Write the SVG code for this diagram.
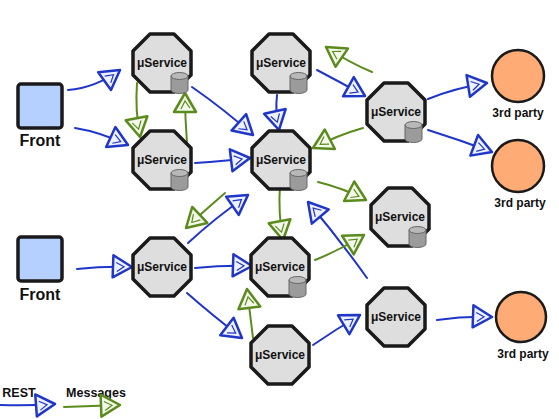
<svg xmlns="http://www.w3.org/2000/svg" width="559" height="419" viewBox="0 0 559 419">
<style>
.oct{fill:#dedede;stroke:#1a1a1a;stroke-width:3.5;stroke-linejoin:round}
.lbl{font-family:"Liberation Sans",Arial,sans-serif;font-weight:bold;font-size:12px;fill:#111;text-anchor:middle}
.big{font-family:"Liberation Sans",Arial,sans-serif;font-weight:bold;font-size:16px;fill:#111;text-anchor:middle}
.front{fill:#b5cfff;stroke:#1a1a1a;stroke-width:3.5;stroke-linejoin:round}
.third{fill:#ffab76;stroke:#1a1a1a;stroke-width:2.5}
.cylb{fill:#9b9b9b;stroke:#666;stroke-width:1}
.cylt{fill:#b8b8b8;stroke:#666;stroke-width:1}
.rest{fill:none;stroke:#1f36c8;stroke-width:2;stroke-linecap:round;marker-end:url(#mb)}
.msg{fill:none;stroke:#5b8b1d;stroke-width:2;stroke-linecap:round;marker-end:url(#mg)}
</style>
<defs>
<marker id="mb" markerUnits="userSpaceOnUse" markerWidth="24" markerHeight="26" refX="20" refY="12" orient="auto" viewBox="-2 -1 24 26">
<path d="M1,1 L20,12 L1,23 Z" fill="#eef1ff" stroke="#1f36c8" stroke-width="2.5" stroke-linejoin="round"/>
<path d="M4,8 L12,12 L5,17" fill="none" stroke="#1f36c8" stroke-width="1.2"/>
</marker>
<marker id="mg" markerUnits="userSpaceOnUse" markerWidth="24" markerHeight="26" refX="20" refY="12" orient="auto" viewBox="-2 -1 24 26">
<path d="M1,1 L20,12 L1,23 Z" fill="#f3f8ea" stroke="#5b8b1d" stroke-width="2.5" stroke-linejoin="round"/>
<path d="M4,8 L12,12 L5,17" fill="none" stroke="#5b8b1d" stroke-width="1.2"/>
</marker>
<polygon id="octshape" points="-12,-29 12,-29 29,-12 29,12 12,29 -12,29 -29,12 -29,-12"/>
<g id="cyl">
<path class="cylb" d="M9,13 L9,27 A8.5,3.5 0 0 0 26,27 L26,13 Z"/>
<ellipse class="cylt" cx="17.5" cy="13" rx="8.5" ry="3.5"/>
</g>
</defs>

<g id="connectors">
<path class="rest" d="M68,90 Q95,88 120,70"/>
<path class="rest" d="M75,128 Q100,132 128,145"/>
<path class="rest" d="M192,87 Q225,110 253,135"/>
<path class="rest" d="M195,163 Q225,161 250,158"/>
<path class="rest" d="M277,95 Q275,112 279,130"/>
<path class="rest" d="M317,70 Q340,82 365,96"/>
<path class="rest" d="M428,99 Q455,88 487,83"/>
<path class="rest" d="M428,130 Q460,140 492,152"/>
<path class="rest" d="M77,269 Q105,266 132,267"/>
<path class="rest" d="M195,268 Q225,265 252,266"/>
<path class="rest" d="M187,293 Q212,315 242,338"/>
<path class="rest" d="M188,243 Q215,218 248,195"/>
<path class="rest" d="M367,278 Q340,240 308,202"/>
<path class="rest" d="M313,345 Q335,330 360,315"/>
<path class="rest" d="M437,320 Q465,316 492,317"/>
<path class="msg" d="M137,83 Q135,110 140,137"/>
<path class="msg" d="M187,143 Q185,118 185,93"/>
<path class="msg" d="M372,72 Q348,62 326,47"/>
<path class="msg" d="M363,128 Q338,135 313,148"/>
<path class="msg" d="M280,185 Q278,213 283,240"/>
<path class="msg" d="M318,182 Q343,188 366,200"/>
<path class="msg" d="M315,260 Q340,250 364,235"/>
<path class="msg" d="M225,193 Q205,210 186,228"/>
<path class="msg" d="M253,338 Q250,313 247,289"/>
</g>

<g id="front1"><rect class="front" x="18" y="84" width="44" height="44" rx="3"/><text class="big" x="40" y="146">Front</text></g>
<g id="front2"><rect class="front" x="18" y="237" width="44" height="44" rx="3"/><text class="big" x="40" y="300">Front</text></g>

<g id="svcA" transform="translate(162,63)"><use href="#octshape" class="oct"/><use href="#cyl"/><text class="lbl" y="4">μService</text></g>
<g id="svcB" transform="translate(162,160)"><use href="#octshape" class="oct"/><use href="#cyl"/><text class="lbl" y="4">μService</text></g>
<g id="svcC" transform="translate(281,63)"><use href="#octshape" class="oct"/><use href="#cyl"/><text class="lbl" y="4">μService</text></g>
<g id="svcD" transform="translate(281,160)"><use href="#octshape" class="oct"/><use href="#cyl"/><text class="lbl" y="4">μService</text></g>
<g id="svcE" transform="translate(396,112)"><use href="#octshape" class="oct"/><use href="#cyl"/><text class="lbl" y="4">μService</text></g>
<g id="svcF" transform="translate(400,217)"><use href="#octshape" class="oct"/><use href="#cyl"/><text class="lbl" y="4">μService</text></g>
<g id="svcG" transform="translate(162,267)"><use href="#octshape" class="oct"/><text class="lbl" y="4">μService</text></g>
<g id="svcH" transform="translate(280,267)"><use href="#octshape" class="oct"/><use href="#cyl"/><text class="lbl" y="4">μService</text></g>
<g id="svcI" transform="translate(280,355)"><use href="#octshape" class="oct"/><text class="lbl" y="4">μService</text></g>
<g id="svcJ" transform="translate(396,317)"><use href="#octshape" class="oct"/><text class="lbl" y="4">μService</text></g>

<g id="third1"><circle class="third" cx="518" cy="76" r="26"/><text class="lbl" x="518" y="117">3rd party</text></g>
<g id="third2"><circle class="third" cx="518" cy="166" r="26"/><text class="lbl" x="520" y="207">3rd party</text></g>
<g id="third3"><circle class="third" cx="521" cy="317" r="25"/><text class="lbl" x="523" y="358">3rd party</text></g>

<g id="legend">
<text class="lbl" x="19" y="397" style="font-size:12.5px">REST</text>
<text class="lbl" x="96" y="397" style="font-size:12.5px">Messages</text>
<path class="rest" d="M0,405 Q28,406 55,404"/>
<path class="msg" d="M64,407 Q92,406 120,405"/>
</g>
</svg>
